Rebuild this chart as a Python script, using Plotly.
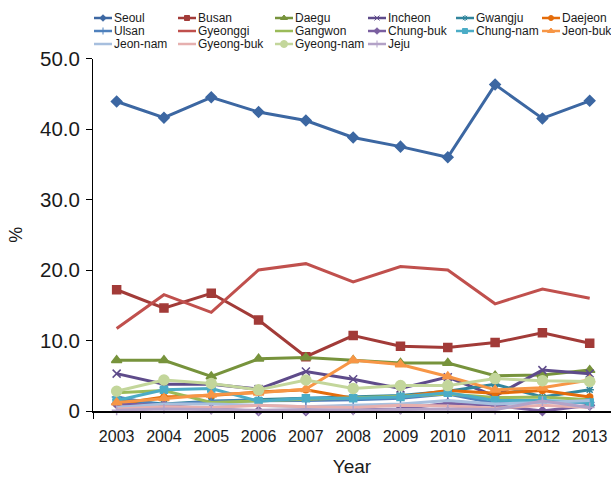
import plotly.graph_objects as go

# Share (%) by region, 2003-2013
years = ["2003", "2004", "2005", "2006", "2007", "2008", "2009", "2010", "2011", "2012", "2013"]

seoul = [43.9, 41.6, 44.5, 42.4, 41.2, 38.8, 37.5, 36.0, 46.3, 41.5, 44.0]
busan = [17.2, 14.6, 16.7, 12.9, 7.7, 10.7, 9.2, 9.0, 9.7, 11.1, 9.6]
daegu = [7.2, 7.2, 4.9, 7.4, 7.6, 7.2, 6.8, 6.8, 5.0, 5.1, 5.8]
incheon = [5.3, 3.8, 3.8, 3.1, 5.6, 4.5, 3.2, 4.8, 2.1, 5.8, 5.3]
gwangju = [1.6, 1.0, 1.4, 1.6, 1.8, 2.0, 2.2, 2.8, 3.8, 2.0, 3.0]
daejeon = [1.0, 2.0, 2.2, 2.7, 3.0, 1.8, 2.0, 2.9, 2.5, 2.9, 2.0]
ulsan = [2.0, 0.8, 1.4, 1.4, 1.5, 1.6, 1.8, 2.4, 1.1, 1.4, 1.2]
gyeonggi = [11.7, 16.5, 14.0, 20.0, 20.9, 18.3, 20.5, 20.0, 15.2, 17.3, 16.0]
gangwon = [2.6, 2.9, 1.2, 1.4, 1.6, 1.9, 2.1, 2.4, 1.9, 2.0, 1.6]
chung_buk = [1.0, 0.8, 0.3, 0.0, 0.0, 0.2, 0.3, 1.1, 0.8, 0.0, 0.8]
chung_nam = [1.5, 3.0, 3.2, 1.4, 1.8, 1.8, 2.0, 2.6, 1.5, 1.5, 1.2]
jeon_buk = [1.2, 1.8, 2.3, 2.6, 3.1, 7.2, 6.6, 4.9, 3.0, 3.3, 4.4]
jeon_nam = [0.5, 1.0, 1.0, 0.8, 0.6, 0.8, 1.0, 1.5, 1.0, 1.2, 1.5]
gyeong_buk = [0.3, 0.6, 0.5, 0.8, 0.6, 0.5, 0.8, 0.7, 0.4, 0.8, 0.5]
gyeong_nam = [2.8, 4.4, 3.9, 3.0, 4.4, 3.2, 3.6, 3.6, 4.6, 4.3, 4.2]
jeju = [0.1, 0.3, 0.2, 0.1, 0.2, 0.1, 0.2, 0.3, 0.2, 1.4, 0.5]

y_tick_vals = [0, 10, 20, 30, 40, 50]
y_tick_text = ["0", "10.0", "20.0", "30.0", "40.0", "50.0"]

# (name, values, colour, marker symbol or None, marker size)
series = [
    ("Seoul", seoul, "#3C67A2", "diamond", 8),
    ("Busan", busan, "#A23B38", "square", 8),
    ("Daegu", daegu, "#77933C", "triangle-up", 9),
    ("Incheon", incheon, "#5E4B8A", "x-thin-open", 8),
    ("Gwangju", gwangju, "#31859C", "asterisk-open", 7),
    ("Daejeon", daejeon, "#E46C0A", "circle", 6),
    ("Ulsan", ulsan, "#4F81BD", "cross-thin-open", 7),
    ("Gyeonggi", gyeonggi, "#C0504D", None, 0),
    ("Gangwon", gangwon, "#9BBB59", None, 0),
    ("Chung-buk", chung_buk, "#7A5FA0", "diamond", 7),
    ("Chung-nam", chung_nam, "#4BACC6", "square", 7),
    ("Jeon-buk", jeon_buk, "#F79646", "triangle-up", 9),
    ("Jeon-nam", jeon_nam, "#A7BFDE", None, 0),
    ("Gyeong-buk", gyeong_buk, "#E6B0AF", None, 0),
    ("Gyeong-nam", gyeong_nam, "#C3D69B", "circle", 10),
    ("Jeju", jeju, "#B3A2C7", "cross-thin-open", 7),
]

W, H = 611, 478
plot_left, plot_top, plot_bottom = 93, 58.5, 411

# legend grid (pixels): six columns, three rows
leg_cols = [94, 178, 275, 368, 456, 542]
leg_rows = [18, 31, 44]
leg_key_len = 18

font_family = "Arial, Liberation Sans, sans-serif"
text_color = "#1a1a1a"

fig = go.Figure()
for name, vals, color, symbol, size in series:
    kw = dict(mode="lines")
    if symbol:
        kw = dict(mode="lines+markers",
                  marker=dict(symbol=symbol, size=size, color=color,
                              line=dict(color=color, width=1.5)))
    fig.add_trace(go.Scatter(
        x=years, y=vals, name=name,
        line=dict(color=color, width=3),
        cliponaxis=False, showlegend=False, **kw))

# legend keys on a pixel-space overlay axis
annotations = []
for i, (name, vals, color, symbol, size) in enumerate(series):
    col, row = i % 6, i // 6
    x0 = leg_cols[col]
    ky = leg_rows[row]
    fig.add_trace(go.Scatter(
        x=[x0, x0 + leg_key_len], y=[ky, ky], mode="lines",
        line=dict(color=color, width=2.5),
        xaxis="x2", yaxis="y2", showlegend=False, hoverinfo="skip"))
    if symbol:
        fig.add_trace(go.Scatter(
            x=[x0 + leg_key_len / 2], y=[ky], mode="markers",
            marker=dict(symbol=symbol, size=max(size - 3, 5), color=color,
                        line=dict(color=color, width=1)),
            xaxis="x2", yaxis="y2", showlegend=False, hoverinfo="skip"))
    annotations.append(dict(
        x=x0 + leg_key_len + 1, y=ky, xref="x2", yref="y2",
        text=name, showarrow=False, xanchor="left", yanchor="middle",
        borderpad=0,
        font=dict(size=12, family=font_family, color=text_color)))

fig.update_layout(
    width=W, height=H,
    margin=dict(l=0, r=0, t=0, b=0, autoexpand=False),
    paper_bgcolor="white", plot_bgcolor="rgba(0,0,0,0)",
    font=dict(family=font_family, color=text_color),
    showlegend=False,
    annotations=annotations,
    xaxis=dict(
        domain=[plot_left / W, 1.0], anchor="y",
        type="category", categoryorder="array", categoryarray=years,
        range=[-0.5, 10.45], tickson="boundaries",
        ticks="outside", ticklen=6, tickcolor="black", tickwidth=1.3,
        showline=True, linecolor="black", linewidth=1.5,
        showgrid=False, zeroline=False,
        tickfont=dict(size=16, color=text_color), ticklabelstandoff=10,
        title=dict(text="Year", font=dict(size=19, color=text_color), standoff=16),
        automargin=False,
    ),
    yaxis=dict(
        domain=[(H - plot_bottom) / H, (H - plot_top) / H], anchor="x",
        range=[0, 50], tickmode="array", tickvals=y_tick_vals, ticktext=y_tick_text,
        ticks="outside", ticklen=6, tickcolor="black", tickwidth=1,
        showline=True, linecolor="black", linewidth=1,
        showgrid=False, zeroline=False,
        tickfont=dict(size=20.5, color=text_color), ticklabelstandoff=2,
        title=dict(text="%", font=dict(size=18, color=text_color), standoff=12),
        automargin=False,
    ),
    xaxis2=dict(domain=[0, 1], range=[0, W], anchor="y2", visible=False,
                fixedrange=True),
    yaxis2=dict(domain=[0, 1], range=[H, 0], anchor="x2", visible=False,
                fixedrange=True),
)

fig.write_html("out.html")
